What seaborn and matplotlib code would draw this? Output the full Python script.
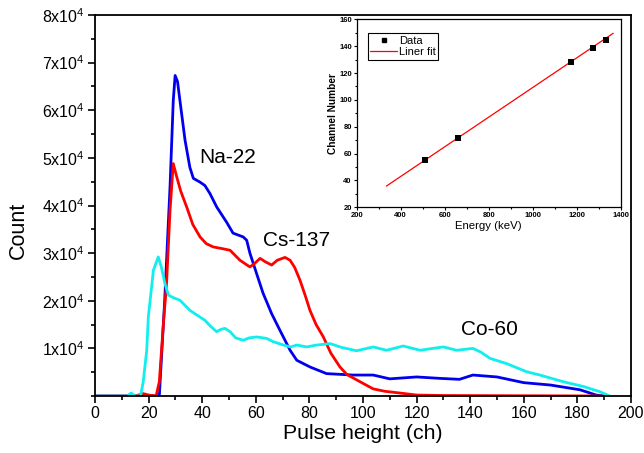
import numpy as np
import pandas as pd
import matplotlib
matplotlib.use("Agg")
import matplotlib.pyplot as plt
from matplotlib.ticker import MultipleLocator, FixedLocator
from matplotlib.lines import Line2D
import seaborn as sns

# ---------------- data ----------------
na22_x = [0, 24, 26, 28, 29.2, 29.9, 30.8, 31.7, 33.6, 35.4, 36.7, 39.2, 41, 42.9, 45.4, 49.1,
          51.5, 55.3, 56.6, 57.8, 60.3, 62.7, 65.9, 69, 72.8, 75.3, 80.2, 86.4, 96.3, 103.8,
          110, 120, 128.7, 136, 141, 150, 160, 170, 181, 187, 190]
na22_y = [0, 0, 20000, 44000, 62000, 67300, 66000, 62000, 53700, 48000, 45700, 44900, 44200,
          42500, 39700, 36500, 34200, 33400, 32700, 30000, 25700, 21600, 17300, 13800, 9600,
          7500, 6100, 4700, 4400, 4400, 3600, 4000, 3700, 3500, 4400, 4000, 2800, 2300, 1300,
          200, 0]

cs137_x = [0, 15, 18, 20, 22.8, 24, 25.5, 26.7, 28, 29.2, 30.5, 32, 34.2, 36.5, 39.2, 41.5,
           44.1, 47, 50.4, 54.1, 57.8, 59.5, 61.6, 63.5, 65.9, 68, 70.9, 72.8, 74.5, 76.5,
           78.5, 80.2, 82.5, 85.2, 88, 91.4, 94, 97.6, 100.5, 103.8, 108, 112.6, 120, 130, 190]
cs137_y = [0, 0, 500, 200, 0, 3000, 15000, 23700, 39000, 48800, 46000, 43000, 39700, 36000,
           33400, 32000, 31300, 31000, 30600, 28500, 27100, 27800, 28900, 28200, 27500, 28500,
           29100, 28500, 27000, 24300, 21000, 18000, 15000, 12400, 9000, 6100, 4500, 3400,
           2500, 1500, 1000, 700, 200, 100, 0]

co60_x = [0, 12, 13.5, 15, 17, 18, 19.3, 19.9, 21.8, 23.6, 24.8, 26.1, 27.4, 29, 31.7, 35.4,
          38, 41, 43, 45.4, 47, 48.5, 50.4, 52.5, 55.3, 57.5, 60.3, 64, 66.5, 70.3, 73, 75.3,
          79, 82.7, 87.7, 92, 97.6, 103.8, 108.8, 115, 121.3, 126, 130, 135, 141, 144, 147.4,
          153.6, 161, 166, 174.7, 182.2, 188.4, 192]
co60_y = [0, 0, 600, 0, 0, 3000, 9600, 16600, 26400, 29200, 27000, 23600, 21200, 20700,
          20100, 18000, 17000, 15900, 14700, 13500, 14000, 14200, 13500, 12200, 11700, 12200,
          12400, 12100, 11400, 10700, 10300, 10700, 10300, 10700, 11000, 10200, 9500, 10300,
          9600, 10500, 9600, 10000, 10300, 9600, 10000, 9200, 7900, 6800, 5100, 4400, 3000,
          2000, 900, 0]

series_names = ["Na-22", "Cs-137", "Co-60"]
series_colors = ["#0000ee", "#ff0000", "#10eeee"]
label_x = [49.4, 75.3, 147]
label_y = [50000, 32700, 14000]

y_tick_values = [10000, 20000, 30000, 40000, 50000, 60000, 70000, 80000]
y_tick_labels = [r"$\mathregular{%dx10^4}$" % k for k in range(1, 9)]

# inset calibration data
energy_kev = [511, 662, 1173, 1275, 1332]
channel = [55.2, 71.4, 128, 138.6, 144.7]
fit_energy = [335, 1366]
fit_channel = [35.8, 149.6]

# ---------------- style ----------------
sns.set_style("ticks")
plt.rcParams["font.family"] = ["Liberation Sans", "DejaVu Sans"]
plt.rcParams["mathtext.fontset"] = "custom"
plt.rcParams["mathtext.rm"] = "Liberation Sans"
plt.rcParams["mathtext.it"] = "Liberation Sans:italic"
plt.rcParams["mathtext.bf"] = "Liberation Sans:bold"
plt.rcParams["text.color"] = "black"
plt.rcParams["axes.labelcolor"] = "black"
plt.rcParams["xtick.color"] = "black"
plt.rcParams["ytick.color"] = "black"
plt.rcParams["xtick.labelcolor"] = "black"
plt.rcParams["ytick.labelcolor"] = "black"

fig = plt.figure(figsize=(6.44, 4.53), dpi=100)
ax = fig.add_axes([95 / 644, 1 - 396 / 453, (631 - 95) / 644, (396 - 15) / 453])

df = pd.concat([
    pd.DataFrame({"x": na22_x, "y": na22_y, "src": "Na-22"}),
    pd.DataFrame({"x": cs137_x, "y": cs137_y, "src": "Cs-137"}),
    pd.DataFrame({"x": co60_x, "y": co60_y, "src": "Co-60"}),
], ignore_index=True)

for name, col in zip(series_names, series_colors):
    sns.lineplot(data=df[df.src == name], x="x", y="y", color=col, lw=2.0,
                 sort=False, estimator=None, ax=ax, legend=False)

ax.set_xlim(0, 200)
ax.set_ylim(0, 80000)
ax.xaxis.set_major_locator(MultipleLocator(20))
ax.xaxis.set_minor_locator(MultipleLocator(10))
ax.yaxis.set_major_locator(FixedLocator(y_tick_values))
ax.set_yticklabels(y_tick_labels)
ax.yaxis.set_minor_locator(MultipleLocator(5000))
ax.tick_params(axis="both", which="major", direction="out", length=5, width=1.2,
               labelsize=11.5, colors="black", pad=2.5)
ax.tick_params(axis="both", which="minor", direction="out", length=3, width=1.2,
               colors="black")
for s in ax.spines.values():
    s.set_visible(True)
    s.set_linewidth(1.3)
    s.set_color("black")
ax.set_xlabel("Pulse height (ch)", fontsize=15.3, labelpad=2, color="black")
ax.set_ylabel("Count", fontsize=15.5, color="black")
ax.yaxis.set_label_coords(-0.123, 0.436)

for name, lx, ly in zip(series_names, label_x, label_y):
    ax.text(lx, ly, name, fontsize=15, ha="center", va="center", color="black")

# ---------------- inset ----------------
ins = fig.add_axes([356.7 / 644, 1 - 207.3 / 453, (620.7 - 356.7) / 644, (207.3 - 19.3) / 453])
sns.lineplot(x=fit_energy, y=fit_channel, color="red", lw=0.9, ax=ins, legend=False)
sns.scatterplot(x=energy_kev, y=channel, color="black", marker="s", s=14,
                edgecolor="black", linewidth=0, ax=ins, legend=False, zorder=3)
ins.set_xlim(200, 1400)
ins.set_ylim(20, 160)
ins.xaxis.set_major_locator(MultipleLocator(200))
ins.xaxis.set_minor_locator(MultipleLocator(100))
ins.yaxis.set_major_locator(MultipleLocator(20))
ins.yaxis.set_minor_locator(MultipleLocator(10))
ins.tick_params(axis="both", which="major", direction="out", length=2.5, width=0.8,
                labelsize=5.5, pad=1, colors="black")
ins.tick_params(axis="both", which="minor", direction="out", length=1.5, width=0.8,
                colors="black")
for lab in ins.get_xticklabels() + ins.get_yticklabels():
    lab.set_fontweight("bold")
for s in ins.spines.values():
    s.set_visible(True)
    s.set_linewidth(0.9)
    s.set_color("black")
ins.set_xlabel("Energy (keV)", fontsize=8.2, labelpad=1, color="black")
ins.set_ylabel("Channel Number", fontsize=7.3, fontweight="bold", labelpad=1, color="black")
handles = [Line2D([], [], color="black", marker="s", ms=3.5, ls="none"),
           Line2D([], [], color="red", lw=0.9)]
leg = ins.legend(handles, ["Data", "Liner fit"], loc="upper left", fontsize=8,
                 frameon=True, fancybox=False, edgecolor="black", framealpha=1,
                 borderpad=0.2, handlelength=2.4, handletextpad=0.2, labelspacing=0.15,
                 borderaxespad=0, bbox_to_anchor=(0.043, 0.925), labelcolor="black")
leg.get_frame().set_linewidth(0.8)

fig.savefig("out.png", dpi=100)
